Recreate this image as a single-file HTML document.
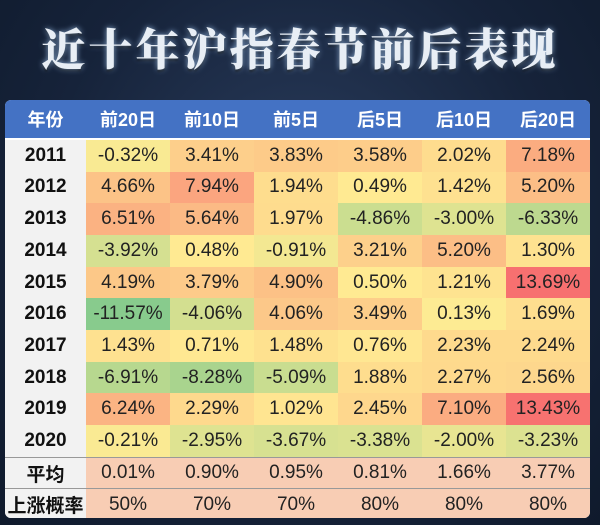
<!DOCTYPE html>
<html><head><meta charset="utf-8"><style>
body{margin:0;width:600px;height:525px;overflow:hidden;background:radial-gradient(ellipse at 50% 40%,#2a3d5e 0%,#16233a 60%,#0f1a2c 100%);font-family:"Liberation Sans","Noto Sans CJK SC",sans-serif;position:relative}
#title{position:absolute;left:0;top:14px;width:600px;text-align:center;font-family:"Noto Serif CJK SC","Noto Sans CJK SC",serif;font-weight:900;font-size:44px;letter-spacing:3px;color:#e8eef5;text-shadow:0 0 6px #8fb0d8,0 2px 2px #000}
#tbl{position:absolute;left:5px;top:100px;width:585px;height:418px;border-radius:6px;overflow:hidden;background:#fff}
.c{position:absolute;display:flex;align-items:center;justify-content:center;font-size:19px;color:#222;box-sizing:border-box}
.h{color:#fff;font-weight:bold;font-size:18px;background:#4472c4}
.y{font-weight:bold;background:#f2f2f2;color:#111}
</style></head><body>
<div id="title">近十年沪指春节前后表现</div>
<div id="tbl"></div>
<script>
const headers=["年份","前20日","前10日","前5日","后5日","后10日","后20日"];
const years=["2011","2012","2013","2014","2015","2016","2017","2018","2019","2020"];
const values=[
[-0.32,3.41,3.83,3.58,2.02,7.18],
[4.66,7.94,1.94,0.49,1.42,5.20],
[6.51,5.64,1.97,-4.86,-3.00,-6.33],
[-3.92,0.48,-0.91,3.21,5.20,1.30],
[4.19,3.79,4.90,0.50,1.21,13.69],
[-11.57,-4.06,4.06,3.49,0.13,1.69],
[1.43,0.71,1.48,0.76,2.23,2.24],
[-6.91,-8.28,-5.09,1.88,2.27,2.56],
[6.24,2.29,1.02,2.45,7.10,13.43],
[-0.21,-2.95,-3.67,-3.38,-2.00,-3.23]];
const avgLabels=["0.01%","0.90%","0.95%","0.81%","1.66%","3.77%"];
const upLabels=["50%","70%","70%","80%","80%","80%"];
const tbl=document.getElementById('tbl');
const YW=81,CW=84,HY=38,RH=31.67;
function mix(a,b,t){t=Math.max(0,Math.min(1,t));return a.map((v,i)=>Math.round(v+(b[i]-v)*t));}
function color(v){const g=[120,196,125],y=[255,233,132],r=[246,92,92],mid=0.3,mn=-11.57,mx=13.69;
let c=v<mid?mix(g,y,(v-mn)/(mid-mn)):mix(y,r,(v-mid)/(mx-mid));
c=mix(c,[255,255,255],0.12);return `rgb(${c})`;}
function cell(x,y,w,h,txt,cls,bg){const d=document.createElement('div');d.className='c '+cls;
d.style.left=x+'px';d.style.top=y+'px';d.style.width=w+'px';d.style.height=h+'px';if(bg)d.style.background=bg;d.textContent=txt;tbl.appendChild(d);return d;}
headers.forEach((h,i)=>{const d=cell(i==0?0:YW+(i-1)*CW,0,i==0?YW:CW,HY,h,'h');

});
years.forEach((yr,r)=>{const top=HY+2+r*RH;
const d=cell(0,top,YW,RH,yr,'y');


values[r].forEach((v,c)=>{const e=cell(YW+c*CW,top,CW,RH,v.toFixed(2)+'%','',color(v));

});});
[["平均",avgLabels],["上涨概率",upLabels]].forEach(([lab,arr],k)=>{const top=HY+2+(10+k)*RH;
const d=cell(0,top,YW,RH,lab,'y');d.style.borderTop='1px solid #999';


arr.forEach((t,c)=>{const e=cell(YW+c*CW,top,CW,RH,t,'','#f8cdb4');e.style.borderTop='1px solid #999';

});});
</script>
</body></html>
